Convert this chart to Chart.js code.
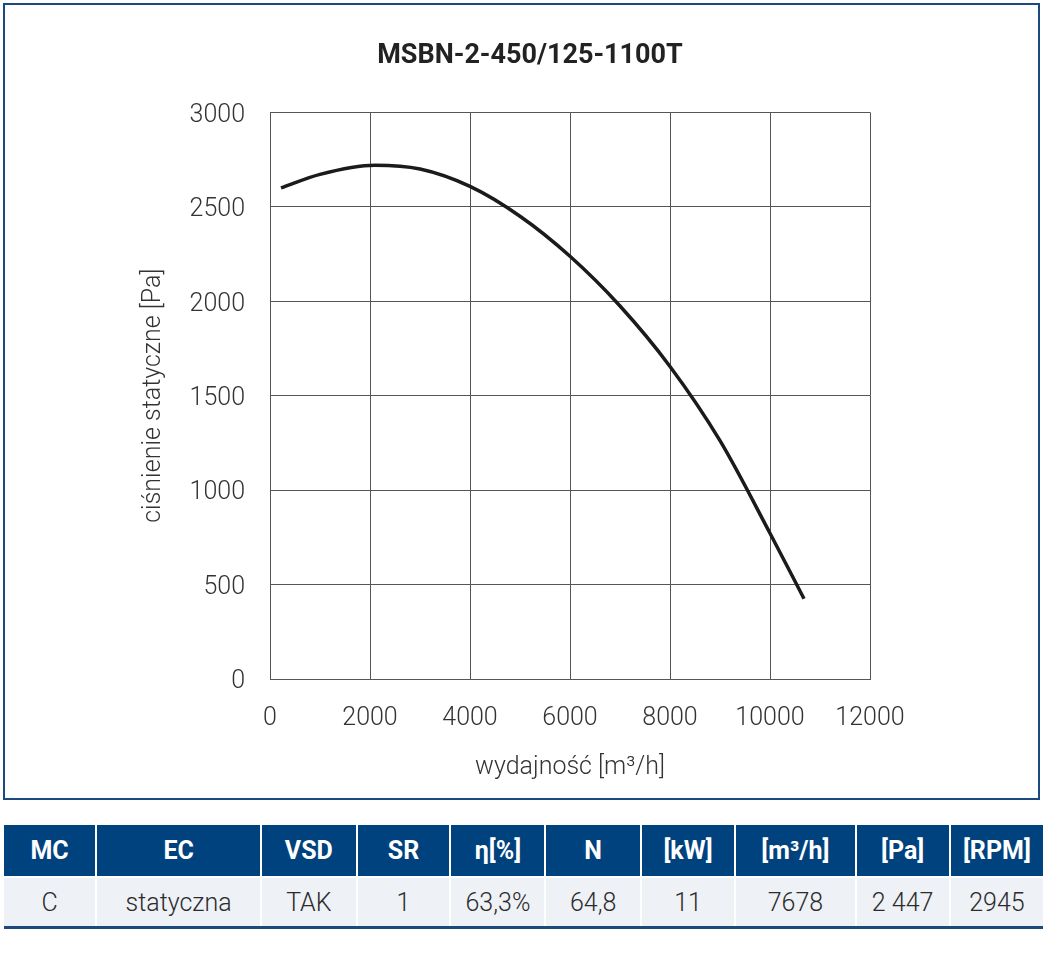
<!DOCTYPE html>
<html>
<head>
<meta charset="utf-8">
<script src="https://cdn.jsdelivr.net/npm/chart.js@4/dist/chart.umd.min.js"></script>
<style>
  html, body { margin:0; padding:0; background:#fff; width:1043px; height:957px; overflow:hidden; }
  #frame { position:absolute; left:3px; top:3px; width:1033px; height:793px; border:2px solid #1d4a7e; pointer-events:none; }
  #wrap { position:absolute; left:17px; top:0; width:1026px; height:800px; }
  table { position:absolute; left:4px; top:825px; border-collapse:collapse; table-layout:fixed; font-family:Roboto, sans-serif; }
  th { background:#00427d; color:#fff; font-weight:700; font-size:25px; height:51px; padding:0; text-align:center; border-left:2px solid #fff; }
  td { background:#eef1f6; color:#2b2b2b; font-weight:300; font-size:25px; height:48px; padding:0; text-align:center; border-left:2px solid #fff; border-top:2px solid #fff; border-bottom:3px solid #1d4a7e; }
  th:first-child, td:first-child { border-left:none; }
</style>
</head>
<body>
<div id="wrap"><canvas id="c" width="1026" height="800"></canvas></div>
<div id="frame"></div>
<table id="tbl"><thead><tr id="hr"></tr></thead><tbody><tr id="br"></tr></tbody></table>
<script>
// --- data ---
const chartTitle = 'MSBN-2-450/125-1100T';
const xAxisTitle = 'wydajność [m³/h]';
const yAxisTitle = 'ciśnienie statyczne [Pa]';
const flow     = [220, 1000, 2100, 3000, 4000, 5000, 6000, 7000, 8000, 9000, 10000, 10680];
const pressure = [2600, 2672, 2720, 2700, 2608, 2450, 2238, 1975, 1655, 1262, 772, 425];
const tableHeaders = ['MC', 'EC', 'VSD', 'SR', 'η[%]', 'N', '[kW]', '[m³/h]', '[Pa]', '[RPM]'];
const tableValues  = ['C', 'statyczna', 'TAK', '1', '63,3%', '64,8', '11', '7678', '2 447', '2945'];
const colWidths    = [93, 165, 95, 94, 94, 95, 94, 120, 94, 93];

// --- table ---
const hr = document.getElementById('hr'), br = document.getElementById('br');
tableHeaders.forEach((h, i) => {
  const th = document.createElement('th'); th.textContent = h; th.style.width = colWidths[i] + 'px'; hr.appendChild(th);
  const td = document.createElement('td'); td.textContent = tableValues[i]; br.appendChild(td);
});

// --- chart ---
const gridColor = '#555';
const tickFont = { family: 'Roboto', size: 25, weight: '300' };
new Chart(document.getElementById('c'), {
  type: 'line',
  data: {
    datasets: [{
      data: flow.map((x, i) => ({ x: x, y: pressure[i] })),
      borderColor: '#1b1b1b',
      borderWidth: 3.5,
      pointRadius: 0,
      cubicInterpolationMode: 'monotone',
      fill: false
    }]
  },
  options: {
    responsive: false,
    animation: false,
    layout: { padding: 0 },
    plugins: {
      legend: { display: false },
      tooltip: { enabled: false },
      title: {
        display: true,
        text: chartTitle,
        color: '#222',
        font: { family: 'Roboto', size: 27, weight: '700' },
        padding: { top: 40, bottom: 40 }
      }
    },
    scales: {
      x: {
        type: 'linear', min: 0, max: 12000,
        ticks: { stepSize: 2000, color: '#333', font: tickFont, padding: 25, maxRotation: 0, callback: v => String(v) },
        grid: { color: gridColor, lineWidth: 1, drawTicks: false },
        border: { color: gridColor },
        title: { display: true, text: xAxisTitle, color: '#333', font: { family: 'Roboto', size: 25, weight: '300' }, padding: { top: 0, bottom: 17 } },
        afterFit: s => { s.height = 121; }
      },
      y: {
        type: 'linear', min: 0, max: 3000,
        ticks: { stepSize: 500, color: '#333', font: tickFont, padding: 25, labelOffset: 3, callback: v => String(v) },
        grid: { color: gridColor, lineWidth: 1, drawTicks: false },
        border: { color: gridColor },
        title: { display: true, text: yAxisTitle, color: '#333', font: { family: 'Roboto', size: 25, weight: '300' }, padding: { top: 122, bottom: 0 } },
        afterFit: s => { s.width = 253; }
      },
      y2: {
        position: 'right', display: true,
        ticks: { display: false },
        grid: { display: false, drawTicks: false },
        border: { display: false },
        afterFit: s => { s.width = 173; }
      }
    }
  }
});
</script>
</body>
</html>
